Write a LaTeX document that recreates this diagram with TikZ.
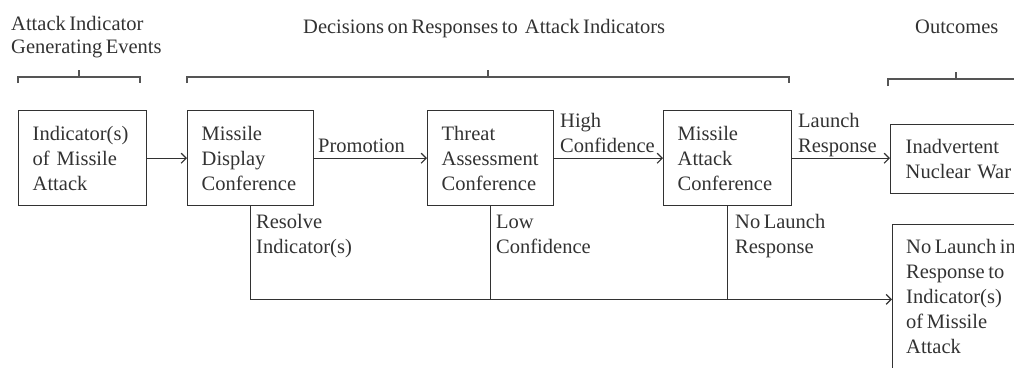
\documentclass[tikz,border=0pt]{standalone}
\usepackage{fontspec}
\setmainfont[WordSpace=0.7]{Liberation Serif}
\usetikzlibrary{arrows.meta}
\definecolor{ink}{RGB}{50,50,50}
\definecolor{brk}{RGB}{85,85,85}
\begin{document}
\begin{tikzpicture}[x=1pt,y=-1pt,
  every node/.style={font=\fontsize{20.5}{25}\selectfont, text=ink},
  box/.style={draw=ink, line width=1.4pt, align=left, inner xsep=14pt, inner ysep=0pt, minimum height=95pt, anchor=north west},
  lbl/.style={align=left, inner sep=0pt, anchor=base west},
  conn/.style={draw=ink, line width=1.2pt},
  arr/.style={conn, -{Straight Barb[length=5pt,width=10pt]}},
  brace/.style={draw=brk, line width=1.8pt},
]
\useasboundingbox (0,0) rectangle (1014,367);

% headings (anchor base = last line's baseline)
\node[lbl, font=\fontsize{20.5}{23.5}\selectfont] (h1) at (11,53.5) {Attack Indicator\\Generating Events};
\node[lbl] (h2) at (303,33) {Decisions on Responses to~ Attack Indicators};
\node[lbl] (h3) at (915,33) {Outcomes};

% brackets
\draw[brace] (18,83) -- (18,77) -- (140,77) -- (140,83) (79,77) -- (79,70);
\draw[brace] (187,83) -- (187,77) -- (789,77) -- (789,83) (488,77) -- (488,70);
\draw[brace] (888,86) -- (888,79) -- (1024,79) -- (1024,86) (956,79) -- (956,72);

% boxes
\node[box, text width=100pt] (b1) at (18,110) {Indicator(s)\\of Missile\\Attack};
\node[box, text width=98pt] (b2) at (187,110) {Missile\\Display\\Conference};
\node[box, text width=98pt] (b3) at (427,110) {Threat\\Assessment\\Conference};
\node[box, text width=100pt] (b4) at (663,110) {Missile\\Attack\\Conference};
\node[box, text width=140pt, minimum height=69pt, inner xsep=15pt] (b5) at (890,124) {Inadvertent\\Nuclear War};
\node[draw=ink, line width=1.4pt, minimum width=170pt, minimum height=200pt, anchor=north west, inner sep=0pt] (b6) at (892,224) {};
\node[lbl] (t6) at (906,353) {No Launch in\\Response to\\Indicator(s)\\of Missile\\Attack};

% labels
\node[lbl] (lp) at (318,152) {Promotion};
\node[lbl] (lh) at (560,152) {High\\Confidence};
\node[lbl] (ll) at (798,152) {Launch\\Response};
\node[lbl] (lr) at (256,253) {Resolve\\Indicator(s)};
\node[lbl] (llc) at (496,253) {Low\\Confidence};
\node[lbl] (lnl) at (735,253) {No Launch\\Response};

% connectors
\draw[arr] (b1.east) -- (b2.west);
\draw[arr] (b2.east) -- (b3.west);
\draw[arr] (b3.east) -- (b4.west);
\draw[arr] (b4.east) -- (b4.east -| b5.west);
\coordinate (j) at ([yshift=-93pt]b2.south);
\draw[arr] (b2.south) -- (j) -- (j -| b6.west);
\draw[conn] (b3.south) -- (b3.south |- j);
\draw[conn] (b4.south) -- (b4.south |- j);
\end{tikzpicture}
\end{document}
